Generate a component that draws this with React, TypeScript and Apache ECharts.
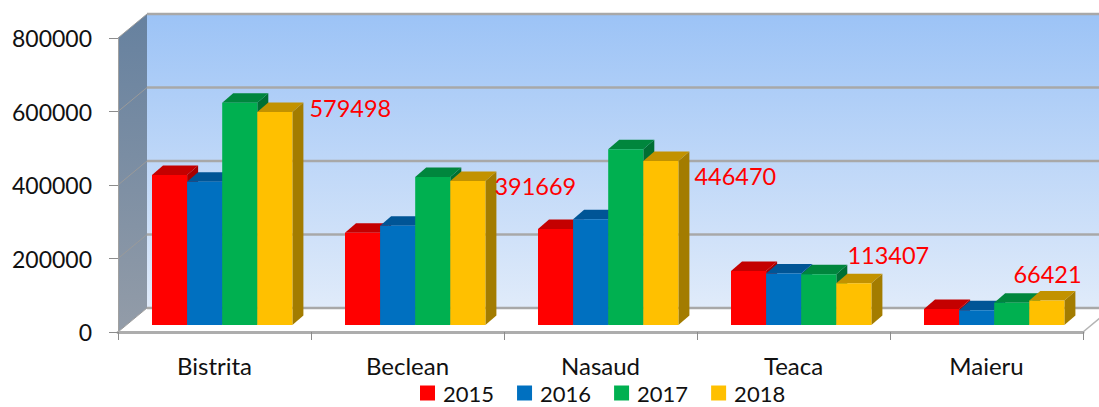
import React, { useEffect, useRef } from "react";
import * as echarts from "echarts";

const categories = ["Bistrita", "Beclean", "Nasaud", "Teaca", "Maieru"];
const years = ["2015", "2016", "2017", "2018"];
const values2015 = [408000, 251000, 261000, 147000, 43500];
const values2016 = [390000, 270000, 288000, 140000, 40000];
const values2017 = [605000, 403000, 478000, 138000, 60500];
const values2018 = [579498, 391669, 446470, 113407, 66421];
const allValues = [values2015, values2016, values2017, values2018];
const ticks = [0, 200000, 400000, 600000, 800000];
const labelText = ["579498", "391669", "446470", "113407", "66421"];

const front = ["#ff0000", "#0070c0", "#00b050", "#ffc000"];
const topFace = ["#c40000", "#005596", "#00863d", "#c29200"];
const sideFace = ["#a80000", "#004a80", "#006f33", "#a37c00"];

const FONT = "Lato";
const WALL_DX = 29;
const WALL_DY = -24;
const BAR_W = 35.1;
const BAR_DX = 11;
const BAR_DY = -9.5;
const BASE_LIFT = 7;
const GROUP_SHIFT = -62.5;
// label anchor (left, middle) relative to the bar's front top-right corner
const labelOffset = [
  [17, -4],
  [9, 5],
  [16, 15],
  [-24, -28],
  [-51, -27],
];

const poly = (points: number[][], fill: any, z2 = 0) => ({
  type: "polygon",
  shape: { points },
  style: { fill },
  z2,
  silent: true,
});

function wallsRender(params: any, api: any) {
  const cs = params.coordSys;
  const v = api.value(0);
  const y = api.coord([0, v])[1];
  const l = cs.x;
  const r = cs.x + cs.width;
  const children: any[] = [];
  if (params.dataIndex === 0) {
    const top = cs.y;
    const bottom = cs.y + cs.height;
    children.push(
      poly(
        [
          [l + WALL_DX, top + WALL_DY],
          [r + WALL_DX, top + WALL_DY],
          [r + WALL_DX, bottom + WALL_DY],
          [l + WALL_DX, bottom + WALL_DY],
        ],
        new echarts.graphic.LinearGradient(0, 0, 0, 1, [
          { offset: 0, color: "#9cc3f6" },
          { offset: 1, color: "#e0ebfa" },
        ])
      ),
      poly(
        [
          [l, top],
          [l + WALL_DX, top + WALL_DY],
          [l + WALL_DX, bottom + WALL_DY],
          [l, bottom],
        ],
        new echarts.graphic.LinearGradient(0, 0, 0, 1, [
          { offset: 0, color: "#66819f" },
          { offset: 1, color: "#939ca8" },
        ])
      ),
      poly(
        [
          [l, bottom],
          [r, bottom],
          [r + WALL_DX, bottom + WALL_DY],
          [l + WALL_DX, bottom + WALL_DY],
        ],
        "#ffffff"
      ),
      {
        type: "line",
        shape: { x1: r, y1: bottom, x2: r + WALL_DX, y2: bottom + WALL_DY },
        style: { stroke: "#b4b4b4", lineWidth: 1.5 },
        silent: true,
      }
    );
  }
  children.push(
    {
      type: "line",
      shape: { x1: l, y1: y, x2: l + WALL_DX, y2: y + WALL_DY },
      style: { stroke: "#9a9a9a", lineWidth: 1 },
      silent: true,
    },
    {
      type: "line",
      shape: {
        x1: l + WALL_DX,
        y1: y + WALL_DY,
        x2: r + WALL_DX,
        y2: y + WALL_DY,
      },
      style: { stroke: "#a8a8a8", lineWidth: 2.5 },
      silent: true,
    }
  );
  return { type: "group", children };
}

const barRender = (seriesIndex: number) => (params: any, api: any) => {
  const cat = api.value(0);
  const val = api.value(1);
  const [cx, yTop] = api.coord([cat, val]);
  const yZero = api.coord([cat, 0])[1];
  const x0 = cx + GROUP_SHIFT + seriesIndex * BAR_W;
  const x1 = x0 + BAR_W;
  const yb = yZero - BASE_LIFT;
  const yt = yTop - BASE_LIFT;
  const children: any[] = [
    poly(
      [
        [x1, yt],
        [x1 + BAR_DX, yt + BAR_DY],
        [x1 + BAR_DX, yb + BAR_DY],
        [x1, yb],
      ],
      sideFace[seriesIndex]
    ),
    poly(
      [
        [x0, yt],
        [x0 + BAR_DX, yt + BAR_DY],
        [x1 + BAR_DX, yt + BAR_DY],
        [x1, yt],
      ],
      topFace[seriesIndex]
    ),
    poly(
      [
        [x0, yt],
        [x1, yt],
        [x1, yb],
        [x0, yb],
      ],
      front[seriesIndex]
    ),
  ];
  if (seriesIndex === 3) {
    const idx = params.dataIndex;
    children.push({
      type: "text",
      x: x1 + labelOffset[idx][0],
      y: yt + labelOffset[idx][1],
      silent: true,
      z2: 10,
      style: {
        text: labelText[idx],
        fill: "#ff0000",
        font: `23.5px ${FONT}`,
        textAlign: "left",
        textVerticalAlign: "middle",
      },
    });
  }
  return { type: "group", children };
};

export default function App() {
  const ref = useRef<HTMLDivElement>(null);
  useEffect(() => {
    const chart = echarts.init(ref.current!, null, { renderer: "svg" });
    chart.setOption({
      animation: false,
      backgroundColor: "#ffffff",
      textStyle: { fontFamily: FONT },
      grid: { left: 118, right: 16, top: 38, bottom: 75 },
      xAxis: {
        type: "category",
        data: categories,
        z: 5,
        axisLine: { show: true, lineStyle: { color: "#adadad", width: 3 } },
        axisTick: { show: true, length: 8, lineStyle: { color: "#8c8c8c", width: 1 } },
        axisLabel: { color: "#111111", fontSize: 24, margin: 21, fontFamily: FONT },
        splitLine: { show: false },
      },
      yAxis: {
        type: "value",
        min: 0,
        max: 800000,
        interval: 200000,
        z: 5,
        axisLine: { show: true, lineStyle: { color: "#a0a0a0", width: 1 } },
        axisTick: { show: true, length: 9, lineStyle: { color: "#8c8c8c", width: 1 } },
        axisLabel: {
          color: "#111111",
          fontSize: 23,
          margin: 26,
          fontFamily: FONT,
          formatter: (v: number) => String(v),
        },
        splitLine: { show: false },
      },
      legend: {
        show: true,
        data: years,
        left: 420,
        top: 382,
        icon: "rect",
        itemWidth: 15,
        itemHeight: 15,
        itemGap: 23,
        padding: 0,
        selectedMode: false,
        textStyle: {
          color: "#111111",
          fontSize: 22,
          fontFamily: FONT,
          padding: [0, 0, 0, 3],
        },
      },
      series: [
        {
          type: "custom",
          name: "walls",
          z: 1,
          silent: true,
          clip: false,
          renderItem: wallsRender,
          encode: { y: 0 },
          data: ticks.map((t) => [t]),
        },
        ...years.map((year, i) => ({
          type: "custom",
          name: year,
          z: 2 + i,
          silent: true,
          clip: false,
          itemStyle: { color: front[i] },
          renderItem: barRender(i),
          encode: { x: 0, y: 1 },
          data: allValues[i].map((v, c) => [c, v]),
        })),
      ],
    });
    return () => chart.dispose();
  }, []);
  return (
    <div
      ref={ref}
      style={{ position: "fixed", left: 0, top: 0, width: 1099, height: 407 }}
    />
  );
}
